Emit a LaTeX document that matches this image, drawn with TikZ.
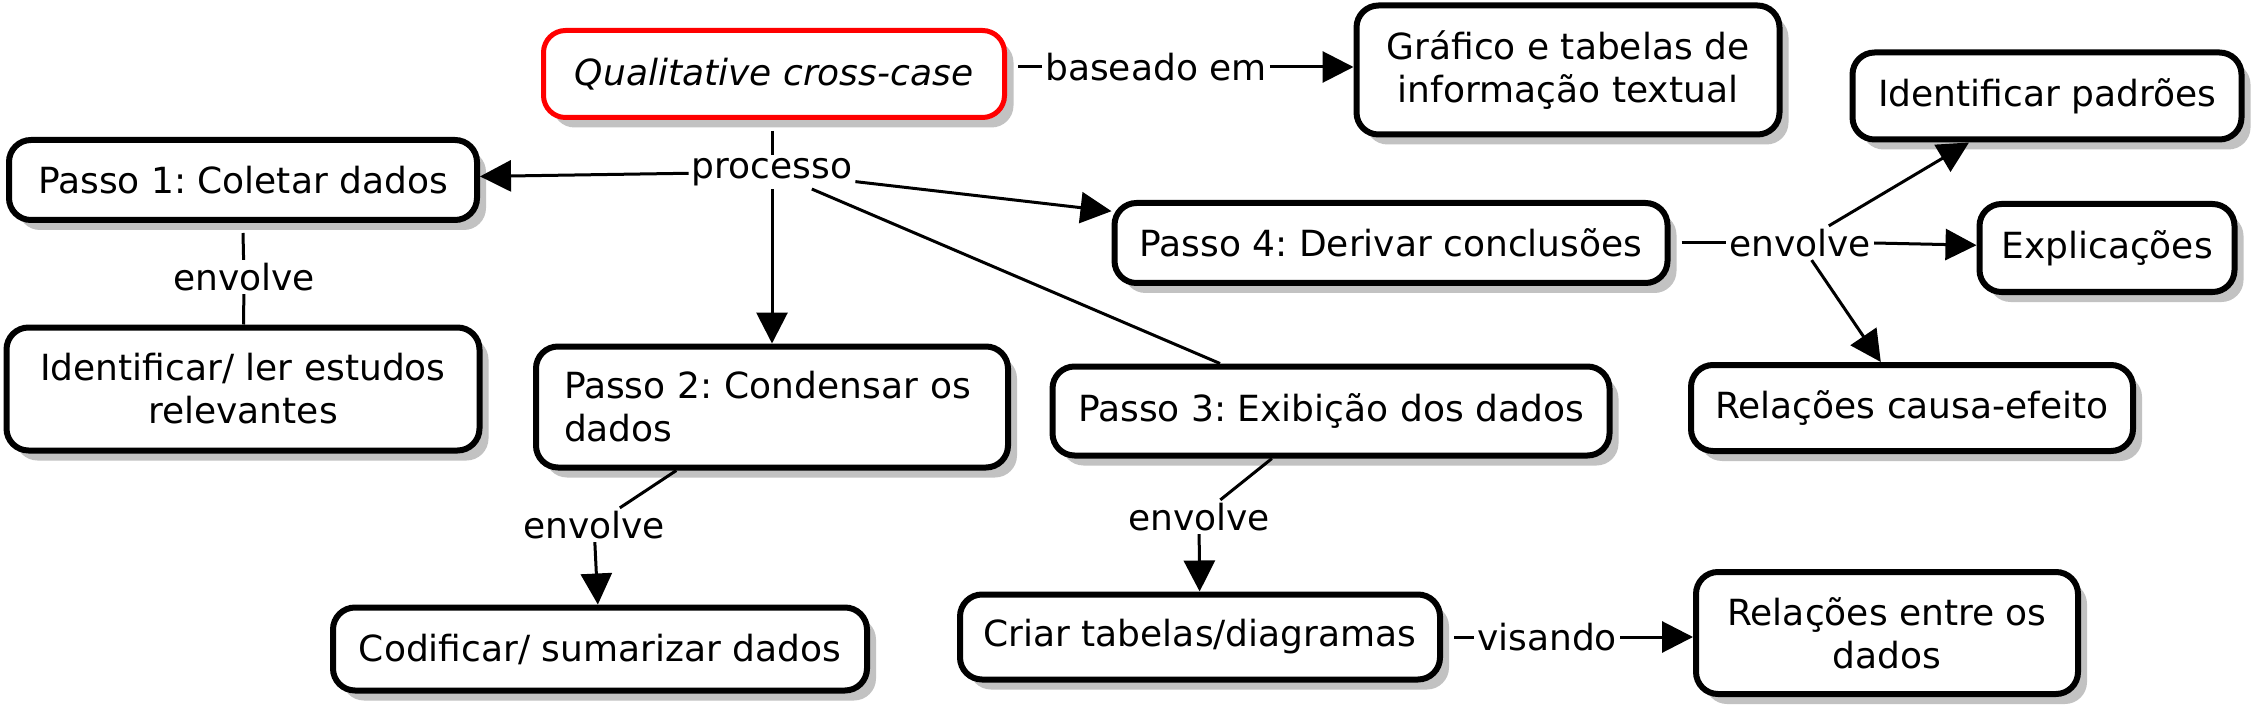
\documentclass[tikz,border=0pt]{standalone}
\usepackage{fontspec}
\setmainfont{DejaVu Sans}
\usetikzlibrary{arrows.meta,shadows}
\begin{document}
\frenchspacing
\begin{tikzpicture}[x=1pt,y=-1pt,
  box/.style={draw=black, line width=6pt, rounded corners=22pt, fill=white, align=center, inner sep=0pt,
    font=\fontsize{36}{43}\selectfont,
    drop shadow={shadow xshift=9pt, shadow yshift=-10pt, fill=black!24, opacity=1}},
  redbox/.style={box, draw=red, line width=5pt},
  lbl/.style={inner sep=3pt, font=\fontsize{36}{43}\selectfont},
  conn/.style={line width=3pt},
  arr/.style={conn, -{Triangle[length=31pt,width=31pt]}}]
\useasboundingbox (0,0) rectangle (2264,719);

\node[redbox, minimum width=461pt, minimum height=87pt] (qc) at (774,74) {\itshape Qualitative cross-case};
\node[box, minimum width=423pt, minimum height=129pt] (graf) at (1568,70) {Gráfico e tabelas de\\informação textual};
\node[box, minimum width=389pt, minimum height=87pt] (idp) at (2047,96) {Identificar padrões};
\node[box, minimum width=468pt, minimum height=80pt] (p1) at (243,180) {Passo 1: Coletar dados};
\node[box, minimum width=553pt, minimum height=80pt] (p4) at (1391,243) {Passo 4: Derivar conclusões};
\node[box, minimum width=255pt, minimum height=88pt] (expl) at (2107,248) {Explicações};
\node[box, minimum width=473pt, minimum height=123pt] (iler) at (243,389) {Identificar/ ler estudos\\relevantes};
\node[box, align=left, text width=416pt, inner xsep=28pt, minimum height=121pt] (p2) at (772,407) {Passo 2: Condensar os\\dados};
\node[box, minimum width=557pt, minimum height=89pt] (p3) at (1331,411) {Passo 3: Exibição dos dados};
\node[box, minimum width=442pt, minimum height=86pt] (rce) at (1912,408) {Relações causa-efeito};
\node[box, minimum width=534pt, minimum height=83pt] (cod) at (600,649) {Codificar/ sumarizar dados};
\node[box, minimum width=480pt, minimum height=85pt] (criar) at (1200,637) {Criar tabelas/diagramas};
\node[box, minimum width=382pt, minimum height=122pt] (rel) at (1887,633) {Relações entre os\\dados};

\node[lbl] (bas) at (1156,67) {baseado em};
\node[lbl] (proc) at (772,172) {processo};
\node[lbl] (env1) at (244,277) {envolve};
\node[lbl] (env4) at (1800,243) {envolve};
\node[lbl] (env2) at (594,525) {envolve};
\node[lbl] (env3) at (1199,517) {envolve};
\node[lbl] (vis) at (1547,637) {visando};

\draw[conn] ([yshift=-11pt]qc.south -| proc.north) -- (proc.north);
\draw[arr] (proc) -- (p1);
\draw[arr] (proc) -- (p2);
\draw[arr] (proc) -- (p4);
\draw[conn] (proc) -- (p3);
\draw[conn] ([xshift=11pt]qc.east |- bas.west) -- (bas.west);
\draw[arr] (bas.east) -- (graf.west |- bas.east);
\draw[conn] ([yshift=-10pt]p1.south) -- (env1);
\draw[conn] (env1) -- (iler);
\draw[conn] ([xshift=11pt]p4.east |- env4.west) -- (env4.west);
\draw[arr] (env4) -- (idp);
\draw[arr] (env4.east) -- (expl);
\draw[arr] (env4) -- (rce);
\draw[conn] (p2) -- (env2);
\draw[arr] (env2) -- (cod);
\draw[conn] (p3) -- (env3);
\draw[arr] (env3) -- (criar);
\draw[conn] ([xshift=11pt]criar.east |- vis.west) -- (vis.west);
\draw[arr] (vis.east) -- (rel.west |- vis.east);
\end{tikzpicture}
\end{document}
